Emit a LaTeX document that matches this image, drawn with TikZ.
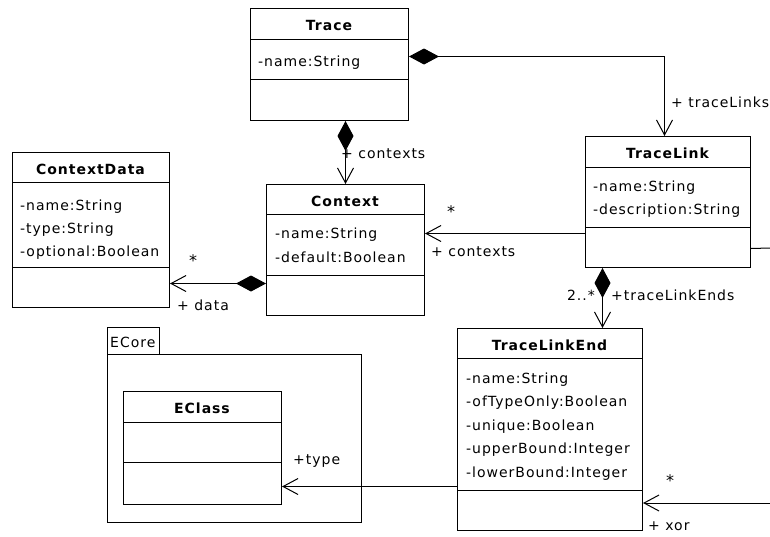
\documentclass[tikz,border=0pt]{standalone}
\usepackage{fontspec}
\setmainfont[LetterSpace=7]{DejaVu Sans}
\usetikzlibrary{arrows.meta}

% a class box: name, left, top, width, height, header depth, attribute depth
\newcommand\umlclassbox[7]{%
  \node[classbox, minimum width=#4pt, minimum height=#5pt] (#1) at (#2,#3) {};
  \draw[boxline] ([yshift=-#6pt]#1.north west) -- ([yshift=-#6pt]#1.north east);
  \draw[boxline] ([yshift=-#7pt]#1.north west) -- ([yshift=-#7pt]#1.north east);
}

\newcommand\umlsize{\fontsize{14}{17}\selectfont}

\tikzset{
  boxline/.style={line width=1pt},
  classbox/.style={draw, line width=1pt, anchor=north west, inner sep=0pt, fill=white},
  classname/.style={anchor=base, inner sep=0pt, font=\umlsize\bfseries},
  attr/.style={anchor=base west, inner sep=0pt, font=\umlsize},
  rolelabel/.style={anchor=base west, inner sep=0pt, font=\umlsize},
  mult/.style={anchor=center, inner sep=0pt, font=\fontsize{16}{18}\selectfont},
  nav/.style={line width=1pt, arrows={-Straight Barb[length=15pt,width=16pt]}},
  comp/.style={line width=1pt, arrows={Diamond[length=30pt,width=16pt]-Straight Barb[length=15pt,width=16pt]}},
  plainline/.style={line width=1pt},
}

\begin{document}
\begin{tikzpicture}[x=1pt, y=-1pt]
  \useasboundingbox[fill=white] (0,0) rectangle (770,536);

  % ECore package with its tab
  \node[classbox, minimum width=254pt, minimum height=168pt] (ecore) at (107,354) {};
  \node[classbox, minimum width=52pt, minimum height=27pt] (ecoretab) at (107,327) {};
  \node[rolelabel] (ecorelbl) at (110,347) {ECore};

  % class boxes
  \umlclassbox{trace}{250}{8}{158}{112}{31}{71}
  \umlclassbox{contextdata}{12}{152}{157}{155}{30}{115}
  \umlclassbox{context}{266}{184}{158}{131}{30}{91}
  \umlclassbox{tracelink}{585}{136}{165}{131}{31}{91}
  \umlclassbox{tracelinkend}{457}{328}{185}{202}{30}{162}
  \umlclassbox{eclass}{123}{391}{158}{113}{31}{71}

  % class names
  \node[classname] (traceN) at (329,30) {Trace};
  \node[classname] (contextdataN) at (90.5,174) {ContextData};
  \node[classname] (contextN) at (345,206) {Context};
  \node[classname] (tracelinkN) at (667.5,158) {TraceLink};
  \node[classname] (tracelinkendN) at (549.5,350) {TraceLinkEnd};
  \node[classname] (eclassN) at (202,413) {EClass};

  % attributes
  \node[attr] (traceA1) at (258,66) {-name:String};

  \node[attr] (cdA1) at (20,210) {-name:String};
  \node[attr] (cdA2) at (20,233) {-type:String};
  \node[attr] (cdA3) at (20,256) {-optional:Boolean};

  \node[attr] (ctxA1) at (275,238) {-name:String};
  \node[attr] (ctxA2) at (275,262) {-default:Boolean};

  \node[attr] (tlA1) at (593,191) {-name:String};
  \node[attr] (tlA2) at (593,214) {-description:String};

  \node[attr] (tleA1) at (466,383) {-name:String};
  \node[attr] (tleA2) at (466,406.5) {-ofTypeOnly:Boolean};
  \node[attr] (tleA3) at (466,430) {-unique:Boolean};
  \node[attr] (tleA4) at (466,453.5) {-upperBound:Integer};
  \node[attr] (tleA5) at (466,477) {-lowerBound:Integer};

  % connector end points
  \coordinate (traceE) at ([yshift=8pt]trace.east);
  \coordinate (tlN) at ([xshift=-3.5pt]tracelink.north);
  \coordinate (tlW) at ([yshift=-31.5pt]tracelink.west);
  \coordinate (ctxW) at ([yshift=-33.5pt]context.west);
  \coordinate (tlS) at ([xshift=-65.5pt]tracelink.south);
  \coordinate (tleW) at ([yshift=-57pt]tracelinkend.west);
  \coordinate (tlE) at ([yshift=-46.5pt]tracelink.east);
  \coordinate (xorOut) at (770,248);
  \coordinate (xorIn) at (770,503);

  % role label set below the composition diamond
  \node[rolelabel] (lblCtx1) at (341,158) {+ contexts};

  % connectors
  \draw[comp] (traceE) -| (tlN);
  \draw[comp] (context.north |- trace.south) -- (context.north);
  \draw[nav] (tlW) -- (tlW -| context.east);
  \draw[comp] (ctxW) -- (ctxW -| contextdata.east);
  \draw[comp] (tlS) -- (tlS |- tracelinkend.north);
  \draw[nav] (tleW) -- (tleW -| eclass.east);
  \draw[plainline] (tlE) -- (xorOut);
  \draw[nav] (xorIn) -- (xorIn -| tracelinkend.east);

  % role names and multiplicities
  \node[rolelabel] (lblTL) at (671,107) {+ traceLinks};
  \node[mult] (mCtx) at (451,212) {*};
  \node[rolelabel] (lblCtx2) at (431,256) {+ contexts};
  \node[mult] (mData) at (193,261) {*};
  \node[rolelabel] (lblData) at (177,310) {+ data};
  \node[anchor=base east, inner sep=0pt, font=\umlsize] (mEnds) at (595,300) {2..*};
  \node[rolelabel] (lblEnds) at (611,300) {+traceLinkEnds};
  \node[rolelabel] (lblType) at (293,464) {+type};
  \node[mult] (mXor) at (670,481) {*};
  \node[rolelabel] (lblXor) at (648,530) {+ xor};
\end{tikzpicture}
\end{document}
